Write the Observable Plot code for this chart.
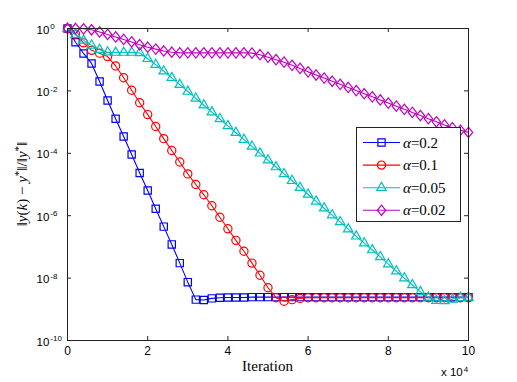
<!DOCTYPE html>
<html>
<head>
<meta charset="utf-8">
<script src="https://cdn.jsdelivr.net/npm/d3@7"></script>
<script src="https://cdn.jsdelivr.net/npm/@observablehq/plot@0.6"></script>
<style>
  html, body { margin: 0; padding: 0; background: #fff; }
</style>
</head>
<body>
<div id="chart"></div>
<script>
// ---------- data ----------
const iterations = [0, 2000, 4000, 6000, 8000, 10000, 12000, 14000, 16000, 18000,
  20000, 22000, 24000, 26000, 28000, 30000, 32000, 34000, 36000, 38000,
  40000, 42000, 44000, 46000, 48000, 50000, 52000, 54000, 56000, 58000,
  60000, 62000, 64000, 66000, 68000, 70000, 72000, 74000, 76000, 78000,
  80000, 82000, 84000, 86000, 88000, 90000, 92000, 94000, 96000, 98000, 100000];

const seriesNames = ["α=0.2", "α=0.1", "α=0.05", "α=0.02"];
const alphaValues = ["0.2", "0.1", "0.05", "0.02"];

// log10 of relative error ||y(k)-y*||/||y*||
const logErrAlpha02 = [0, -0.44, -0.80, -1.12, -1.70, -2.31, -2.89, -3.46, -4.04, -4.63,
  -5.19, -5.78, -6.35, -6.92, -7.52, -8.13, -8.69, -8.70, -8.65, -8.63,
  -8.62, -8.62, -8.62, -8.61, -8.61, -8.61, -8.61, -8.61, -8.61, -8.61,
  -8.61, -8.61, -8.61, -8.61, -8.61, -8.61, -8.61, -8.61, -8.61, -8.61,
  -8.61, -8.61, -8.61, -8.61, -8.61, -8.61, -8.61, -8.61, -8.61, -8.61, -8.61];

const logErrAlpha01 = [0, -0.18, -0.46, -0.70, -0.79, -0.90, -1.20, -1.58, -1.98, -2.38,
  -2.76, -3.14, -3.53, -3.91, -4.28, -4.66, -5.00, -5.33, -5.68, -6.05,
  -6.42, -6.79, -7.14, -7.52, -7.91, -8.31, -8.63, -8.74, -8.69, -8.65,
  -8.63, -8.63, -8.63, -8.63, -8.63, -8.63, -8.63, -8.63, -8.63, -8.63,
  -8.63, -8.63, -8.63, -8.63, -8.63, -8.63, -8.63, -8.63, -8.63, -8.63, -8.63];

const logErrAlpha005 = [0, -0.20, -0.38, -0.54, -0.68, -0.76, -0.77, -0.77, -0.77, -0.78,
  -0.97, -1.16, -1.37, -1.58, -1.80, -2.02, -2.24, -2.46, -2.68, -2.90,
  -3.12, -3.34, -3.56, -3.78, -4.00, -4.22, -4.44, -4.66, -4.88, -5.10,
  -5.32, -5.54, -5.76, -5.98, -6.20, -6.43, -6.66, -6.88, -7.10, -7.32,
  -7.55, -7.78, -8.00, -8.22, -8.44, -8.62, -8.72, -8.73, -8.68, -8.63, -8.62];

const logErrAlpha002 = [0, 0.00, -0.01, -0.04, -0.11, -0.19, -0.27, -0.35, -0.43, -0.52,
  -0.60, -0.66, -0.72, -0.76, -0.78, -0.78, -0.78, -0.78, -0.78, -0.78,
  -0.78, -0.78, -0.78, -0.79, -0.84, -0.92, -1.00, -1.08, -1.18, -1.28,
  -1.39, -1.49, -1.59, -1.69, -1.79, -1.89, -1.99, -2.09, -2.19, -2.29,
  -2.39, -2.49, -2.59, -2.69, -2.79, -2.89, -2.99, -3.09, -3.18, -3.26, -3.33];

const xTicks = [0, 2, 4, 6, 8, 10];            // in units of 10^4
const yTicks = [1, 1e-2, 1e-4, 1e-6, 1e-8, 1e-10];
const yTickLabels = ["10^0", "10^-2", "10^-4", "10^-6", "10^-8", "10^-10"];

// ---------- styling ----------
const colors = ["#0000ff", "#ff0000", "#00bfbf", "#bf00bf"];
const W = 517, H = 382, mL = 67, mR = 49, mT = 28, mB = 42;
const pw = W - mL - mR, ph = H - mT - mB;
const serif = "'Liberation Serif', 'Times New Roman', serif";
const sans = "'Liberation Sans', Arial, sans-serif";

const diamondSym = {
  draw(ctx, size) {
    const r = Math.sqrt(size / Math.PI);
    const hw = r * 1.05, hh = r * 1.3;
    ctx.moveTo(0, -hh); ctx.lineTo(hw, 0); ctx.lineTo(0, hh); ctx.lineTo(-hw, 0); ctx.closePath();
  }
};
const symbols = ["square", "circle", "triangle", diamondSym];
const d3Symbols = [d3.symbolSquare, d3.symbolCircle, d3.symbolTriangle, diamondSym];
const radii = [4.1, 4.1, 3.5, 4.0];

const logSeries = [logErrAlpha02, logErrAlpha01, logErrAlpha005, logErrAlpha002];
const tables = logSeries.map(arr => iterations.map((it, i) => ({x: it / 1e4, y: Math.pow(10, arr[i])})));

const marks = [];
tables.forEach((t, k) => {
  marks.push(Plot.line(t, {x: "x", y: "y", stroke: colors[k], strokeWidth: 1.1}));
  marks.push(Plot.dot(t, {x: "x", y: "y", stroke: colors[k], fill: "none", strokeWidth: 1.2, r: radii[k], symbol: symbols[k]}));
});

const labelMap = new Map(yTicks.map((d, i) => [d, yTickLabels[i]]));
const axisColor = "#222";

const svgNode = Plot.plot({
  width: W, height: H,
  marginLeft: mL, marginRight: mR, marginTop: mT, marginBottom: mB,
  style: {fontFamily: sans, fontSize: "12px", background: "#fff", color: axisColor},
  x: {domain: [0, 10]},
  y: {type: "log", domain: [1e-10, 1]},
  marks: [
    ...marks,
    Plot.frame({stroke: axisColor, strokeWidth: 1}),
    Plot.tickX(xTicks, {x: d => d, insetTop: ph - 4, stroke: axisColor}),
    Plot.tickX(xTicks, {x: d => d, insetBottom: ph - 4, stroke: axisColor}),
    Plot.tickY(yTicks, {y: d => d, insetRight: pw - 4, stroke: axisColor}),
    Plot.tickY(yTicks, {y: d => d, insetLeft: pw - 4, stroke: axisColor}),
    Plot.axisX(xTicks, {tickSize: 0, tickPadding: 6, label: null, fill: "#000", fontSize: 12}),
    Plot.axisY(yTicks, {tickSize: 0, tickPadding: 0, textAnchor: "start", dx: -31, dy: 1.5,
      tickFormat: d => labelMap.get(d), label: null, fill: "#000", fontSize: 11.5})
  ]
});

const svg = d3.select(svgNode);

// superscripts on y tick labels
svg.selectAll('g[aria-label="y-axis tick label"] text').each(function() {
  const s = this.textContent;
  const parts = s.split("^");
  const t = d3.select(this);
  t.text(null);
  t.append("tspan").text(parts[0]);
  t.append("tspan").attr("dy", "-0.55em").attr("font-size", "8px").attr("dx", "1").text(parts[1]);
});

// x axis title
svg.append("text")
  .attr("x", mL + pw / 2).attr("y", 371)
  .attr("text-anchor", "middle")
  .attr("font-family", serif)
  .attr("font-size", 15)
  .attr("fill", "#000")
  .text("Iteration");

// x 10^4 multiplier
const mult = svg.append("text")
  .attr("x", 441).attr("y", 376)
  .attr("text-anchor", "start")
  .attr("font-family", sans)
  .attr("font-size", 11.5).attr("fill", "#000");
mult.append("tspan").text("x 10");
mult.append("tspan").attr("dy", "-0.55em").attr("font-size", "8px").attr("dx", "1").text("4");

// y axis title
const yl = svg.append("text")
  .attr("transform", `translate(27,${mT + ph / 2}) rotate(-90)`)
  .attr("text-anchor", "middle")
  .attr("font-family", serif)
  .attr("font-size", 15).attr("fill", "#000");
const ypart = (txt, italic) => {
  const ts = yl.append("tspan").text(txt);
  if (italic) ts.attr("font-style", "italic");
  return ts;
};
ypart("‖"); ypart("y", true); ypart("("); ypart("k", true); ypart(") − "); ypart("y", true);
yl.append("tspan").attr("dy", -5).attr("font-size", 11).text("*");
yl.append("tspan").attr("dy", 5).text("‖/‖");
ypart("y", true);
yl.append("tspan").attr("dy", -5).attr("font-size", 11).text("*");
yl.append("tspan").attr("dy", 5).text("‖");

// legend
const lg = svg.append("g");
lg.append("rect").attr("x", 356.5).attr("y", 127.5).attr("width", 104).attr("height", 94)
  .attr("fill", "#fff").attr("stroke", axisColor).attr("stroke-width", 1);
seriesNames.forEach((name, k) => {
  const cy = 142.5 + k * 22.6;
  lg.append("line").attr("x1", 363).attr("x2", 400).attr("y1", cy).attr("y2", cy)
    .attr("stroke", colors[k]).attr("stroke-width", 1.1);
  lg.append("path").attr("transform", `translate(381.5,${cy})`)
    .attr("d", d3.symbol(d3Symbols[k], radii[k] * radii[k] * Math.PI)())
    .attr("fill", "none").attr("stroke", colors[k]).attr("stroke-width", 1.2);
  const tx = lg.append("text").attr("x", 403).attr("y", cy + 5)
    .attr("text-anchor", "start")
    .attr("font-family", serif)
    .attr("font-size", 15).attr("fill", "#000");
  tx.append("tspan").attr("font-style", "italic").text("α");
  tx.append("tspan").text("=" + alphaValues[k]);
});

document.getElementById("chart").appendChild(svgNode);
</script>
</body>
</html>
